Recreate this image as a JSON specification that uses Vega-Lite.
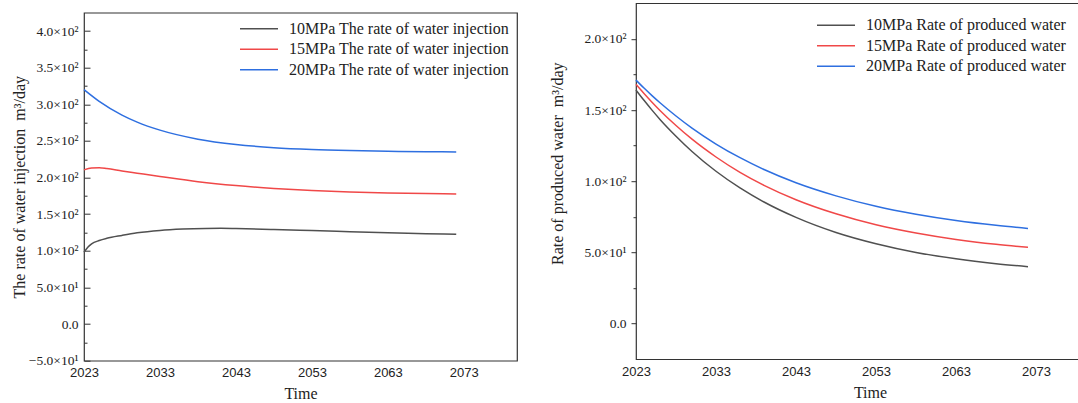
{
  "$schema": "https://vega.github.io/schema/vega-lite/v6.json",
  "background": "white",
  "padding": {"left": 10, "top": 2, "right": 0, "bottom": 0},
  "spacing": 30,
  "center": true,
  "config": {
    "view": {"stroke": "#333333", "strokeWidth": 1.2},
    "font": "Liberation Serif",
    "axis": {"domain": false, "grid": false, "labelFont": "Liberation Serif", "labelFontSize": 13.5, "labelColor": "#222222", "titleFont": "Liberation Serif", "titleFontSize": 16, "titleFontWeight": "normal", "titleColor": "#222222", "tickColor": "#333333", "tickWidth": 1},
    "legend": {"labelFont": "Liberation Serif", "labelFontSize": 16, "labelColor": "#222222", "padding": 0, "labelLimit": 400, "rowPadding": 4.5}
  },
  "datasets": {
    "inj": [
      {"year": 2023, "series": "10MPa The rate of water injection", "value": 98},
      {"year": 2023.5, "series": "10MPa The rate of water injection", "value": 105},
      {"year": 2024, "series": "10MPa The rate of water injection", "value": 109.5},
      {"year": 2025, "series": "10MPa The rate of water injection", "value": 114},
      {"year": 2026, "series": "10MPa The rate of water injection", "value": 117},
      {"year": 2028, "series": "10MPa The rate of water injection", "value": 121},
      {"year": 2030, "series": "10MPa The rate of water injection", "value": 124.5},
      {"year": 2033, "series": "10MPa The rate of water injection", "value": 127.8},
      {"year": 2036, "series": "10MPa The rate of water injection", "value": 129.6},
      {"year": 2039, "series": "10MPa The rate of water injection", "value": 130.5},
      {"year": 2041, "series": "10MPa The rate of water injection", "value": 130.7},
      {"year": 2043, "series": "10MPa The rate of water injection", "value": 130.4},
      {"year": 2048, "series": "10MPa The rate of water injection", "value": 129.1},
      {"year": 2053, "series": "10MPa The rate of water injection", "value": 127.6},
      {"year": 2058, "series": "10MPa The rate of water injection", "value": 126.1},
      {"year": 2063, "series": "10MPa The rate of water injection", "value": 124.7},
      {"year": 2068, "series": "10MPa The rate of water injection", "value": 123.4},
      {"year": 2072, "series": "10MPa The rate of water injection", "value": 122.5},
      {"year": 2023, "series": "15MPa The rate of water injection", "value": 210.5},
      {"year": 2024, "series": "15MPa The rate of water injection", "value": 213},
      {"year": 2025, "series": "15MPa The rate of water injection", "value": 213.3},
      {"year": 2026, "series": "15MPa The rate of water injection", "value": 212.3},
      {"year": 2028, "series": "15MPa The rate of water injection", "value": 209},
      {"year": 2030, "series": "15MPa The rate of water injection", "value": 206},
      {"year": 2033, "series": "15MPa The rate of water injection", "value": 201.5},
      {"year": 2038, "series": "15MPa The rate of water injection", "value": 194.3},
      {"year": 2043, "series": "15MPa The rate of water injection", "value": 189},
      {"year": 2048, "series": "15MPa The rate of water injection", "value": 185.2},
      {"year": 2053, "series": "15MPa The rate of water injection", "value": 182.3},
      {"year": 2058, "series": "15MPa The rate of water injection", "value": 180.3},
      {"year": 2063, "series": "15MPa The rate of water injection", "value": 179},
      {"year": 2068, "series": "15MPa The rate of water injection", "value": 178.1},
      {"year": 2072, "series": "15MPa The rate of water injection", "value": 177.6},
      {"year": 2023, "series": "20MPa The rate of water injection", "value": 320},
      {"year": 2025, "series": "20MPa The rate of water injection", "value": 304},
      {"year": 2028, "series": "20MPa The rate of water injection", "value": 285.3},
      {"year": 2030, "series": "20MPa The rate of water injection", "value": 275.7},
      {"year": 2033, "series": "20MPa The rate of water injection", "value": 264.7},
      {"year": 2038, "series": "20MPa The rate of water injection", "value": 252.4},
      {"year": 2043, "series": "20MPa The rate of water injection", "value": 245.1},
      {"year": 2048, "series": "20MPa The rate of water injection", "value": 240.8},
      {"year": 2053, "series": "20MPa The rate of water injection", "value": 238.3},
      {"year": 2058, "series": "20MPa The rate of water injection", "value": 236.8},
      {"year": 2063, "series": "20MPa The rate of water injection", "value": 235.8},
      {"year": 2068, "series": "20MPa The rate of water injection", "value": 235.3},
      {"year": 2072, "series": "20MPa The rate of water injection", "value": 235}
    ],
    "prod": [
      {"year": 2023, "series": "10MPa Rate of produced water", "value": 164},
      {"year": 2024, "series": "10MPa Rate of produced water", "value": 156.8},
      {"year": 2025, "series": "10MPa Rate of produced water", "value": 149.9},
      {"year": 2026, "series": "10MPa Rate of produced water", "value": 143.4},
      {"year": 2028, "series": "10MPa Rate of produced water", "value": 131.6},
      {"year": 2030, "series": "10MPa Rate of produced water", "value": 120.9},
      {"year": 2033, "series": "10MPa Rate of produced water", "value": 107},
      {"year": 2036, "series": "10MPa Rate of produced water", "value": 95.3},
      {"year": 2039, "series": "10MPa Rate of produced water", "value": 85.4},
      {"year": 2043, "series": "10MPa Rate of produced water", "value": 74.6},
      {"year": 2048, "series": "10MPa Rate of produced water", "value": 64},
      {"year": 2053, "series": "10MPa Rate of produced water", "value": 56.1},
      {"year": 2058, "series": "10MPa Rate of produced water", "value": 50},
      {"year": 2063, "series": "10MPa Rate of produced water", "value": 45.5},
      {"year": 2068, "series": "10MPa Rate of produced water", "value": 42.1},
      {"year": 2072, "series": "10MPa Rate of produced water", "value": 40},
      {"year": 2023, "series": "15MPa Rate of produced water", "value": 168},
      {"year": 2024, "series": "15MPa Rate of produced water", "value": 161.6},
      {"year": 2025, "series": "15MPa Rate of produced water", "value": 155.5},
      {"year": 2026, "series": "15MPa Rate of produced water", "value": 149.7},
      {"year": 2028, "series": "15MPa Rate of produced water", "value": 139.1},
      {"year": 2030, "series": "15MPa Rate of produced water", "value": 129.5},
      {"year": 2033, "series": "15MPa Rate of produced water", "value": 117},
      {"year": 2036, "series": "15MPa Rate of produced water", "value": 106.2},
      {"year": 2039, "series": "15MPa Rate of produced water", "value": 97.1},
      {"year": 2043, "series": "15MPa Rate of produced water", "value": 87},
      {"year": 2048, "series": "15MPa Rate of produced water", "value": 77.1},
      {"year": 2053, "series": "15MPa Rate of produced water", "value": 69.4},
      {"year": 2058, "series": "15MPa Rate of produced water", "value": 63.6},
      {"year": 2063, "series": "15MPa Rate of produced water", "value": 59.1},
      {"year": 2068, "series": "15MPa Rate of produced water", "value": 55.7},
      {"year": 2072, "series": "15MPa Rate of produced water", "value": 53.6},
      {"year": 2023, "series": "20MPa Rate of produced water", "value": 171},
      {"year": 2024, "series": "20MPa Rate of produced water", "value": 165.4},
      {"year": 2025, "series": "20MPa Rate of produced water", "value": 160.1},
      {"year": 2026, "series": "20MPa Rate of produced water", "value": 155.1},
      {"year": 2028, "series": "20MPa Rate of produced water", "value": 145.8},
      {"year": 2030, "series": "20MPa Rate of produced water", "value": 137.3},
      {"year": 2033, "series": "20MPa Rate of produced water", "value": 126.1},
      {"year": 2036, "series": "20MPa Rate of produced water", "value": 116.5},
      {"year": 2039, "series": "20MPa Rate of produced water", "value": 108.2},
      {"year": 2043, "series": "20MPa Rate of produced water", "value": 98.9},
      {"year": 2048, "series": "20MPa Rate of produced water", "value": 89.7},
      {"year": 2053, "series": "20MPa Rate of produced water", "value": 82.4},
      {"year": 2058, "series": "20MPa Rate of produced water", "value": 76.8},
      {"year": 2063, "series": "20MPa Rate of produced water", "value": 72.4},
      {"year": 2068, "series": "20MPa Rate of produced water", "value": 69},
      {"year": 2072, "series": "20MPa Rate of produced water", "value": 66.8}
    ]
  },
  "resolve": {"scale": {"color": "independent"}},
  "hconcat": [
    {
      "width": 433,
      "height": 348,
      "title": {"text": " ", "fontSize": 10, "offset": 0},
      "data": {"name": "inj"},
      "mark": {"type": "line", "interpolate": "monotone", "strokeWidth": 1.5},
      "encoding": {
        "x": {"field": "year", "type": "quantitative", "scale": {"domain": [2023, 2080], "nice": false, "zero": false},
          "axis": {"title": "Time", "values": [2023, 2033, 2043, 2053, 2063, 2073], "format": "d", "ticks": false, "labelFont": "Liberation Sans", "labelFontSize": 13, "labelFlush": false, "labelPadding": 6, "titlePadding": 6, "titleFont": "Liberation Serif"}},
        "y": {"field": "value", "type": "quantitative", "scale": {"domain": [-50, 425], "nice": false, "zero": false},
          "axis": {"title": "The rate of water injection\u00a0\u00a0m³/day", "titleX": -65, "titleBaseline": "middle", "titleFont": "Liberation Serif",
            "values": [-50, -25, 0, 25, 50, 75, 100, 125, 150, 175, 200, 225, 250, 275, 300, 325, 350, 375, 400],
            "tickSize": {"condition": {"test": "datum.value % 50 !== 0", "value": -3}, "value": -6},
            "labelPadding": 12, "labelFont": "Liberation Serif",
            "labelExpr": "datum.value % 50 !== 0 ? '' : datum.value === 0 ? '0.0' : format(datum.value / (abs(datum.value) >= 100 ? 100 : 10), '.1f') + '×10' + (abs(datum.value) >= 100 ? '²' : '¹')"}},
        "color": {"field": "series", "type": "nominal",
          "scale": {"domain": ["10MPa The rate of water injection", "15MPa The rate of water injection", "20MPa The rate of water injection"], "range": ["#505050", "#f04848", "#2e6fe0"]},
          "legend": {"title": null, "orient": "top-right", "offset": 8, "symbolType": "M-1,0H37", "symbolSize": 4, "symbolStrokeWidth": 1.5, "labelOffset": 40, "labelFont": "Liberation Serif"}}
      }
    },
    {
      "width": 444,
      "height": 356,
      "data": {"name": "prod"},
      "mark": {"type": "line", "interpolate": "monotone", "strokeWidth": 1.5},
      "encoding": {
        "x": {"field": "year", "type": "quantitative", "scale": {"domain": [2023, 2078.5], "nice": false, "zero": false},
          "axis": {"title": ["Time", ""], "titleLineHeight": 11, "titleX": 234, "values": [2023, 2033, 2043, 2053, 2063, 2073], "format": "d", "ticks": false, "labelFont": "Liberation Sans", "labelFontSize": 13, "labelFlush": false, "labelPadding": 6, "titlePadding": 6, "titleFont": "Liberation Serif"}},
        "y": {"field": "value", "type": "quantitative", "scale": {"domain": [-25, 225], "nice": false, "zero": false},
          "axis": {"title": "Rate of produced water\u00a0\u00a0m³/day", "titleX": -79, "titleY": 160, "titleAlign": "center", "titleBaseline": "middle", "titleFont": "Liberation Serif",
            "values": [0, 25, 50, 75, 100, 125, 150, 175, 200],
            "tickSize": {"condition": {"test": "datum.value % 50 !== 0", "value": 3}, "value": 5},
            "labelPadding": 5, "labelFont": "Liberation Serif",
            "labelExpr": "datum.value % 50 !== 0 ? '' : datum.value === 0 ? '0.0' : format(datum.value / (abs(datum.value) >= 100 ? 100 : 10), '.1f') + '×10' + (abs(datum.value) >= 100 ? '²' : '¹')"}},
        "color": {"field": "series", "type": "nominal",
          "scale": {"domain": ["10MPa Rate of produced water", "15MPa Rate of produced water", "20MPa Rate of produced water"], "range": ["#505050", "#f04848", "#2e6fe0"]},
          "legend": {"title": null, "orient": "top-right", "offset": 14, "symbolType": "M-1,0H37", "symbolSize": 4, "symbolStrokeWidth": 1.5, "labelOffset": 40, "labelFont": "Liberation Serif"}}
      }
    }
  ]
}
